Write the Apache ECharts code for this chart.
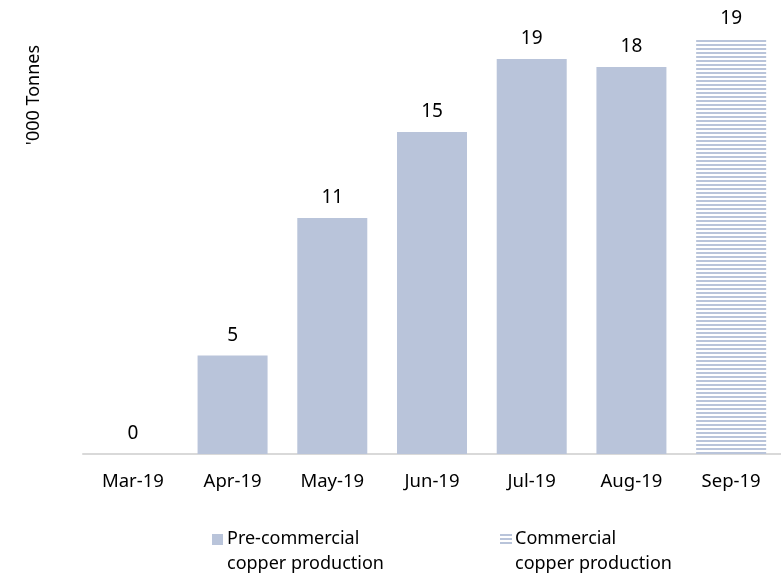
<!DOCTYPE html>
<html><head><meta charset="utf-8">
<script src="https://cdn.jsdelivr.net/npm/echarts@6/dist/echarts.min.js"></script>
<style>html,body{margin:0;padding:0;background:#fff}#c{width:781px;height:573px}</style>
</head><body><div id="c"></div>
<script>
const categories = ['Mar-19', 'Apr-19', 'May-19', 'Jun-19', 'Jul-19', 'Aug-19', 'Sep-19'];
const preCommercial = [0, 4.62, 11.08, 15.12, 18.54, 18.17, null];
const commercial = [null, null, null, null, null, null, 19.48];
const seriesNames = ['Pre-commercial\ncopper production', 'Commercial\ncopper production'];
const yAxisTitle = "'000 Tonnes";

const barColor = '#b9c4da';
const FONT = 'Noto Sans';

const pc = document.createElement('canvas');
pc.width = 4; pc.height = 4;
const ctx = pc.getContext('2d');
ctx.fillStyle = '#ffffff';
ctx.fillRect(0, 0, 4, 4);
ctx.fillStyle = barColor;
ctx.fillRect(0, 0, 4, 2);

const chart = echarts.init(document.getElementById('c'), null, {renderer: 'canvas'});
const labelCfg = {
  show: true, position: 'top', distance: 11, color: '#000',
  fontFamily: FONT, fontSize: 19,
  formatter: p => Math.round(p.value)
};
chart.setOption({
  animation: false,
  backgroundColor: '#fff',
  grid: {left: 83, right: 0, top: 28, bottom: 119, containLabel: false},
  xAxis: {
    type: 'category', data: categories,
    axisLine: {lineStyle: {color: '#d9d9d9', width: 2}},
    axisTick: {show: false},
    axisLabel: {color: '#000', fontFamily: FONT, fontSize: 18.5, margin: 18}
  },
  yAxis: {
    type: 'value', min: 0, max: 20,
    axisLine: {show: false}, axisTick: {show: false},
    axisLabel: {show: false}, splitLine: {show: false}
  },
  legend: [{
    data: [{name: seriesNames[0], icon: 'path://M0,0H11V11H0Z M0,34L0.01,34'}],
    left: 212, top: 526, padding: 0,
    itemWidth: 11, itemHeight: 34, itemGap: 0,
    textStyle: {color: '#000', fontFamily: FONT, fontSize: 18, lineHeight: 25, padding: [0, 0, 0, -1]},
    selectedMode: false
  }, {
    data: [{name: seriesNames[1], icon: 'path://M0,0H12V2H0Z M0,4H12V6H0Z M0,8H12V10H0Z M0,34L0.01,34', itemStyle: {color: barColor}}],
    left: 500, top: 526, padding: 0,
    itemWidth: 12, itemHeight: 34, itemGap: 0,
    textStyle: {color: '#000', fontFamily: FONT, fontSize: 18, lineHeight: 25, padding: [0, 0, 0, -2]},
    selectedMode: false
  }],
  graphic: [{
    type: 'text', x: 34, y: 95, rotation: Math.PI / 2,
    style: {text: yAxisTitle, fill: '#000', font: '18px "Noto Sans"', align: 'center', verticalAlign: 'middle'}
  }],
  series: [{
    name: seriesNames[0], type: 'bar', stack: 'a', data: preCommercial,
    barWidth: 70, itemStyle: {color: barColor}, label: labelCfg
  }, {
    name: seriesNames[1], type: 'bar', stack: 'a', data: commercial,
    barWidth: 72, itemStyle: {color: {image: pc, repeat: 'repeat'}}, label: labelCfg
  }]
});
</script>
</body></html>
